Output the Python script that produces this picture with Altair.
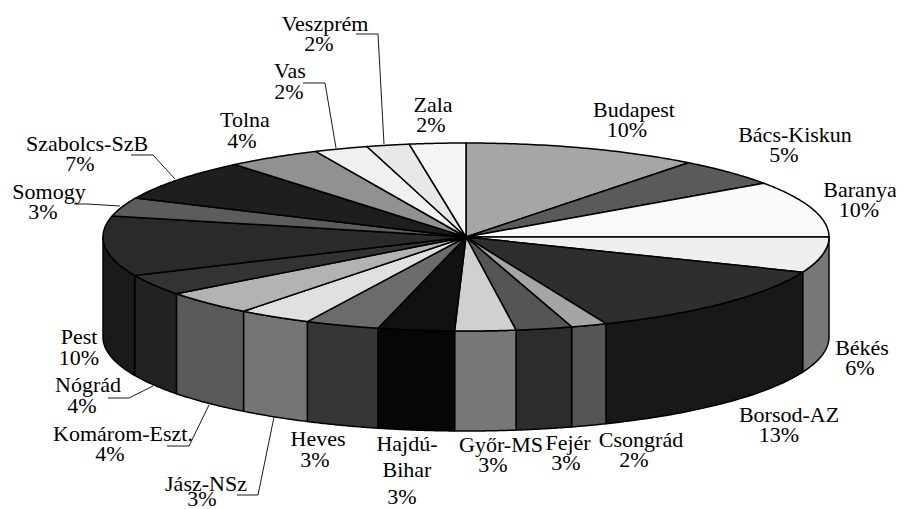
import numpy as np
import pandas as pd
import altair as alt

names = ["Budapest", "Bács-Kiskun", "Baranya", "Békés", "Borsod-AZ", "Csongrád", "Fejér", "Győr-MS",
         "Hajdú-Bihar", "Heves", "Jász-NSz", "Komárom-Eszt.", "Nógrád", "Pest", "Somogy",
         "Szabolcs-SzB", "Tolna", "Vas", "Veszprém", "Zala"]
shares = [10.5, 4.8, 9.7, 6.1, 12.6, 1.6, 2.5, 2.7, 3.4, 3.3, 3.3, 4.2, 3.6, 10.3, 3.2, 7.2, 4.2, 2.4, 1.9, 2.5]
top_shade = ["#a6a6a6", "#5a5a5a", "#fafafa", "#efefef", "#2e2e2e", "#a5a5a5", "#555555", "#d0d0d0",
             "#111111", "#6b6b6b", "#e0e0e0", "#b3b3b3", "#333333", "#2a2a2a", "#5c5c5c",
             "#1e1e1e", "#919191", "#f0f0f0", "#e8e8e8", "#f5f5f5"]
side_shade = ["#777777", "#777777", "#777777", "#787878", "#181818", "#555555", "#2c2c2c", "#777777",
              "#060606", "#363636", "#757575", "#5a5a5a", "#222222", "#1a1a1a", "#222222",
              "#222222", "#222222", "#222222", "#222222", "#222222"]

# label lines: text, centre x, baseline y
label_text = ["Veszprém", "2%", "Vas", "2%", "Zala", "2%", "Tolna", "4%", "Szabolcs-SzB", "7%", "Somogy", "3%",
              "Budapest", "10%", "Bács-Kiskun", "5%", "Baranya", "10%", "Békés", "6%", "Borsod-AZ", "13%",
              "Csongrád", "2%", "Fejér", "3%", "Győr-MS", "3%", "Hajdú-", "Bihar", "3%", "Heves", "3%",
              "Jász-NSz", "3%", "Komárom-Eszt.", "4%", "Nógrád", "4%", "Pest", "10%"]
label_x = [325, 319, 290, 289, 433, 431, 245, 242, 87, 80, 49, 43, 634, 627, 795, 784, 860, 859, 862, 860, 789, 779,
           641, 634, 568, 566, 501, 493, 407, 407, 402, 318, 315, 206, 202, 123, 110, 88, 82, 79, 79]
label_y = [31, 51, 78, 99, 112, 132, 127, 148, 151, 171, 199, 219, 117, 137, 142, 162, 197, 217, 355, 375, 422, 442,
           447, 467, 450, 470, 452, 472, 451, 477, 504, 446, 467, 491, 506, 441, 461, 392, 413, 344, 365]

leader_ids = ["Veszprém", "Vas", "Szabolcs", "Somogy", "Nógrád", "Komárom", "Jász"]
leader_xs = [[356, 378, 384], [303, 325, 336], [131, 153, 175], [74, 87, 120], [108, 129, 153], [167, 189, 209], [237, 258, 274]]
leader_ys = [[34, 34, 144], [83, 83, 148], [155, 155, 179], [204, 204, 206], [398, 398, 386], [446, 446, 405], [495, 495, 417]]

CX, CY, RX, RY, DEPTH = 466, 237, 363, 94, 100
FONT = "Liberation Serif"
FS = 22

X = alt.X("x:Q", axis=None, scale=alt.Scale(domain=[8, 896], nice=False, zero=False))
Y = alt.Y("y:Q", axis=None, scale=alt.Scale(domain=[509, 8], nice=False, zero=False))

edges = np.concatenate([[0], np.cumsum(shares)]) / np.sum(shares) * 360.0


def ell(t, dy=0.0):
    r = np.radians(t)
    return CX + RX * np.sin(r), CY - RY * np.cos(r) + dy


rows = []
seq = 0
def add(group, shade, xs, ys):
    global seq
    for px, py in zip(xs, ys):
        rows.append({"g": group, "shade": shade, "x": float(px), "y": float(py), "o": seq})
        seq += 1

for i, n in enumerate(names):
    a, b = max(edges[i], 90), min(edges[i + 1], 270)
    if a < b:
        t = np.linspace(a, b, 40)
        x1, y1 = ell(t)
        x2, y2 = ell(t[::-1], DEPTH)
        add("s%02d" % i, side_shade[i], np.r_[x1, x2, x1[:1]], np.r_[y1, y2, y1[:1]])
for i, n in enumerate(names):
    t = np.linspace(edges[i], edges[i + 1], 60)
    x1, y1 = ell(t)
    add("t%02d" % i, top_shade[i], np.r_[CX, x1, CX], np.r_[CY, y1, CY])

poly = pd.DataFrame(rows)
layers = []
for g, d in poly.groupby("g", sort=False):
    layers.append(
        alt.Chart(d).mark_line(fill=d["shade"].iloc[0], stroke="black", strokeWidth=1.5,
                               strokeJoin="round", clip=False, interpolate="linear")
        .encode(x=X, y=Y, order="o:Q")
    )

lead = pd.DataFrame([
    {"id": i, "x": px, "y": py, "o": k}
    for i, xs, ys in zip(leader_ids, leader_xs, leader_ys)
    for k, (px, py) in enumerate(zip(xs, ys))
])
leaders = alt.Chart(lead).mark_line(stroke="black", strokeWidth=0.9).encode(x=X, y=Y, detail="id:N", order="o:Q")

labels = alt.Chart(pd.DataFrame({"t": label_text, "x": label_x, "y": label_y})).mark_text(
    font=FONT, fontSize=FS, align="center", baseline="alphabetic", color="#000000"
).encode(x=X, y=Y, text="t:N")

chart = alt.layer(*layers, leaders, labels).properties(
    width=888, height=501, padding=0, autosize=alt.AutoSizeParams(type="none")
).configure_view(stroke=None)

chart.save("out.html", embed_options={"renderer": "svg", "actions": False})
